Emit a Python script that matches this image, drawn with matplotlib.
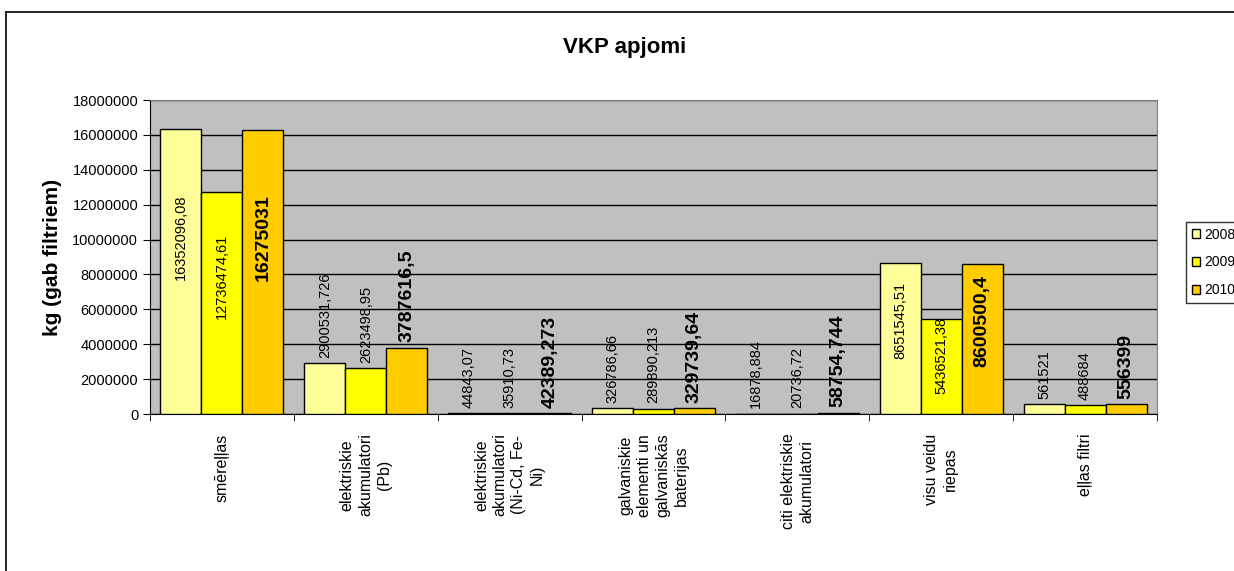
import matplotlib.pyplot as plt
import numpy as np
from matplotlib.lines import Line2D

plt.rcParams['font.family'] = ['Liberation Sans', 'DejaVu Sans']

categories = ['smēreļļas',
              'elektriskie\nakumulatori\n(Pb)',
              'elektriskie\nakumulatori\n(Ni-Cd, Fe-\nNi)',
              'galvaniskie\nelementi un\ngalvaniskās\nbaterijas',
              'citi elektriskie\nakumulatori',
              'visu veidu\nriepas',
              'eļļas filtri']
years = ['2008', '2009', '2010']
v2008 = [16352096.08, 2900531.726, 44843.07, 326786.66, 16878.884, 8651545.51, 561521]
v2009 = [12736474.61, 2623498.95, 35910.73, 289890.213, 20736.72, 5436521.38, 488684]
v2010 = [16275031, 3787616.5, 42389.273, 329739.64, 58754.744, 8600500.4, 556399]
colors = ['#FFFF99', '#FFFF00', '#FFCC00']

fig = plt.figure(figsize=(12.34, 5.71), dpi=100)
ax = fig.add_axes([150 / 1234, 1 - 414 / 571, 1007 / 1234, 314 / 571])
ax.set_facecolor('#C0C0C0')

x = np.arange(len(categories))
w = 0.285
series = [v2008, v2009, v2010]
for i, (vals, col, yr) in enumerate(zip(series, colors, years)):
    pos = x + (i - 1) * w
    ax.bar(pos, vals, w, color=col, edgecolor='black', linewidth=1, label=yr, zorder=3)
    bold = i == 2
    for px, v in zip(pos, vals):
        txt = f"{v:.12g}".replace('.', ',')
        kw = dict(rotation=90, ha='center', fontsize=14 if bold else 10.5,
                  fontweight='bold' if bold else 'normal', zorder=4)
        if v > 5e6:
            # big bars: label sits inside the bar
            ax.text(px, v * 0.62, txt, va='center', **kw)
        else:
            ax.annotate(txt, (px, v), xytext=(0, 4), textcoords='offset points',
                        va='bottom', **kw)

ax.set_xlim(-0.5, len(categories) - 0.5)
ax.set_ylim(0, 18000000)
ax.set_yticks(np.arange(0, 18000001, 2000000))
ax.set_yticklabels([str(t) for t in range(0, 18000001, 2000000)], fontsize=10.5)
ax.yaxis.grid(True, color='black', linewidth=1, zorder=1)
ax.set_axisbelow(True)

ax.set_xticks(x)
ax.set_xticklabels(categories, rotation=90, fontsize=11.5, va='top',
                   multialignment='center', linespacing=1.3)
ax.tick_params(axis='x', length=0, pad=14)
ax.set_xticks(np.arange(-0.5, len(categories)), minor=True)
ax.tick_params(axis='x', which='minor', length=5, direction='out')
ax.tick_params(axis='y', length=5, direction='out')

for s in ['left', 'bottom']:
    ax.spines[s].set_color('black')
for s in ['top', 'right']:
    ax.spines[s].set_color('#808080')

ax.set_ylabel('kg (gab filtriem)', fontsize=15, fontweight='bold')
ax.yaxis.set_label_coords(-0.087, 0.5)

fig.text(625 / 1234, 1 - 48 / 571, 'VKP apjomi', ha='center', va='center',
         fontsize=16, fontweight='bold')

leg = ax.legend(loc='upper left', bbox_to_anchor=(1186 / 1234, 1 - 222 / 571),
                bbox_transform=fig.transFigure, fontsize=10, frameon=True,
                fancybox=False, edgecolor='black', handlelength=0.6,
                handleheight=0.6, handletextpad=0.3, labelspacing=1.0,
                borderpad=0.4, borderaxespad=0)
leg.get_frame().set_linewidth(1)

# chart border
fig.add_artist(Line2D([6 / 1234, 1.0], [1 - 12 / 571] * 2, color='black', lw=1.2,
                      transform=fig.transFigure))
fig.add_artist(Line2D([6 / 1234] * 2, [0, 1 - 12 / 571], color='black', lw=1.2,
                      transform=fig.transFigure))

fig.savefig('out.png', dpi=100)
